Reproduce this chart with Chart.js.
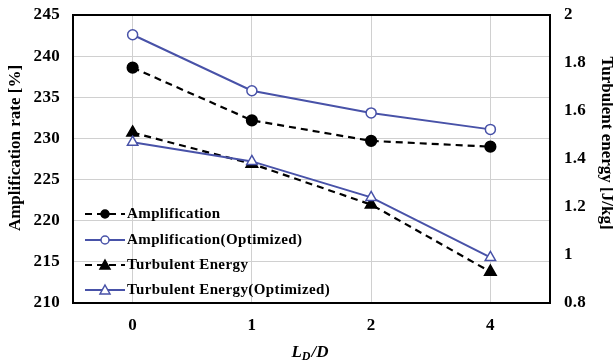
<!DOCTYPE html>
<html>
<head>
<meta charset="utf-8">
<script src="https://cdn.jsdelivr.net/npm/chart.js@4"></script>
<style>
  html, body { margin: 0; padding: 0; background: #fff; }
  canvas { display: block; }
</style>
</head>
<body>
<canvas id="chart" width="613" height="363"></canvas>
<script>
// Datos: amplificación (eje izq.) y energía turbulenta (eje der.) frente a L_D/D
const categorias = ['0', '1', '2', '4'];
const amplificacion = [238.6, 232.2, 229.7, 229.0];
const amplificacionOpt = [242.6, 235.8, 233.1, 231.1];
const energia = [1.51, 1.38, 1.21, 0.93];
const energiaOpt = [1.47, 1.39, 1.24, 0.99];

const serif = '"Liberation Serif", "Times New Roman", serif';
const azul = '#4852a8';

// Leyenda dentro del área, abajo a la izquierda, y títulos de ejes
const extras = {
    id: 'extras',
    beforeDraw(chart) {
        chart.ctx.letterSpacing = '0.3px';
    },
    afterDraw(chart) {
        const ctx = chart.ctx;
        const area = chart.chartArea;

        // Marco del gráfico
        ctx.save();
        ctx.strokeStyle = '#000';
        ctx.lineWidth = 2;
        ctx.strokeRect(area.left, area.top, area.right - area.left, area.bottom - area.top);
        ctx.restore();

        // Leyenda
        const ys = [214, 240, 265, 290];
        chart.data.datasets.forEach((ds, i) => {
            const y = ys[i];
            ctx.save();
            ctx.strokeStyle = ds.borderColor;
            ctx.lineWidth = 2;
            ctx.setLineDash(ds.borderDash || []);
            ctx.beginPath();
            ctx.moveTo(85, y);
            ctx.lineTo(125, y);
            ctx.stroke();
            ctx.setLineDash([]);
            ctx.fillStyle = ds.pointBackgroundColor;
            ctx.strokeStyle = ds.pointBorderColor;
            ctx.lineWidth = 1.5;
            ctx.beginPath();
            if (ds.pointStyle === 'circle') {
                ctx.arc(105, y, 4, 0, Math.PI * 2);
            } else {
                ctx.moveTo(105, y - 5);
                ctx.lineTo(110, y + 4);
                ctx.lineTo(100, y + 4);
                ctx.closePath();
            }
            ctx.fill();
            ctx.stroke();
            ctx.fillStyle = '#000';
            ctx.font = 'bold 15px ' + serif;
            ctx.letterSpacing = '0.4px';
            ctx.textBaseline = 'middle';
            ctx.textAlign = 'left';
            ctx.fillText(ds.label, 127, y);
            ctx.restore();
        });

        // Título eje izquierdo
        ctx.save();
        ctx.fillStyle = '#000';
        ctx.font = 'bold 17px ' + serif;
        ctx.letterSpacing = '0px';
        ctx.textAlign = 'center';
        ctx.textBaseline = 'middle';
        ctx.translate(16, 148);
        ctx.rotate(-Math.PI / 2);
        ctx.fillText('Amplification rate [%]', 0, 0);
        ctx.restore();

        // Título eje derecho
        ctx.save();
        ctx.fillStyle = '#000';
        ctx.font = 'bold 17px ' + serif;
        ctx.letterSpacing = '0px';
        ctx.textAlign = 'center';
        ctx.textBaseline = 'middle';
        ctx.translate(606, 143);
        ctx.rotate(Math.PI / 2);
        ctx.fillText('Turbulent energy [J/kg]', 0, 0);
        ctx.restore();

        // Título eje X: L_D/D
        ctx.save();
        ctx.fillStyle = '#000';
        ctx.letterSpacing = '0px';
        ctx.textBaseline = 'alphabetic';
        ctx.textAlign = 'left';
        ctx.font = 'italic bold 17px ' + serif;
        const wL = ctx.measureText('L').width;
        ctx.font = 'italic bold 12px ' + serif;
        const wD = ctx.measureText('D').width;
        ctx.font = 'italic bold 17px ' + serif;
        const wR = ctx.measureText('/D').width;
        let x = 310 - (wL + wD + 1 + wR) / 2;
        const y = 357;
        ctx.fillText('L', x, y);
        x += wL;
        ctx.font = 'italic bold 12px ' + serif;
        ctx.fillText('D', x, y + 3);
        x += wD + 1;
        ctx.font = 'italic bold 17px ' + serif;
        ctx.fillText('/D', x, y);
        ctx.restore();
    }
};

const ctx = document.getElementById('chart').getContext('2d');

const fuenteTicks = { family: serif, size: 17, weight: 'bold' };

// Ejes verticales sin relleno extra arriba/abajo para fijar el área
function ajusteVertical(s, ancho) {
    s.width = ancho;
    s.paddingTop = 0;
    s.paddingBottom = 0;
}

new Chart(ctx, {
    type: 'line',
    data: {
        labels: categorias,
        datasets: [{
            label: 'Amplification',
            data: amplificacion,
            yAxisID: 'y',
            borderColor: '#000',
            borderWidth: 2.2,
            borderDash: [7, 5],
            pointStyle: 'circle',
            pointRadius: 5,
            pointBackgroundColor: '#000',
            pointBorderColor: '#000',
            order: 1
        }, {
            label: 'Amplification(Optimized)',
            data: amplificacionOpt,
            yAxisID: 'y',
            borderColor: azul,
            borderWidth: 2,
            pointStyle: 'circle',
            pointRadius: 5,
            pointBorderWidth: 1.5,
            pointBackgroundColor: '#fff',
            pointBorderColor: azul,
            order: 0
        }, {
            label: 'Turbulent Energy',
            data: energia,
            yAxisID: 'y1',
            borderColor: '#000',
            borderWidth: 2.2,
            borderDash: [7, 5],
            pointStyle: 'triangle',
            pointRadius: 6,
            pointBackgroundColor: '#000',
            pointBorderColor: '#000',
            order: 1
        }, {
            label: 'Turbulent Energy(Optimized)',
            data: energiaOpt,
            yAxisID: 'y1',
            borderColor: azul,
            borderWidth: 2,
            pointStyle: 'triangle',
            pointRadius: 6,
            pointBorderWidth: 1.5,
            pointBackgroundColor: '#fff',
            pointBorderColor: azul,
            order: 0
        }]
    },
    options: {
        responsive: false,
        animation: false,
        layout: { padding: { top: 15, left: 0, right: 0, bottom: 0 } },
        plugins: {
            legend: { display: false },
            tooltip: { enabled: false }
        },
        scales: {
            x: {
                offset: true,
                grid: { offset: false, color: '#d0d0d0', drawTicks: false },
                border: { display: false },
                ticks: { color: '#000', padding: 12, font: fuenteTicks },
                afterFit: (s) => { s.height = 60; }
            },
            y: {
                position: 'left',
                min: 210,
                max: 245,
                grid: { color: '#d0d0d0', drawTicks: false },
                border: { display: false },
                ticks: { stepSize: 5, color: '#000', padding: 13, font: fuenteTicks },
                afterFit: (s) => ajusteVertical(s, 73)
            },
            y1: {
                position: 'right',
                min: 0.8,
                max: 2,
                grid: { display: false, drawTicks: false },
                border: { display: false },
                ticks: { stepSize: 0.2, color: '#000', padding: 14, font: fuenteTicks,
                    callback: (v) => String(Math.round(v * 10) / 10) },
                afterFit: (s) => ajusteVertical(s, 63)
            }
        }
    },
    plugins: [extras]
});
</script>
</body>
</html>
